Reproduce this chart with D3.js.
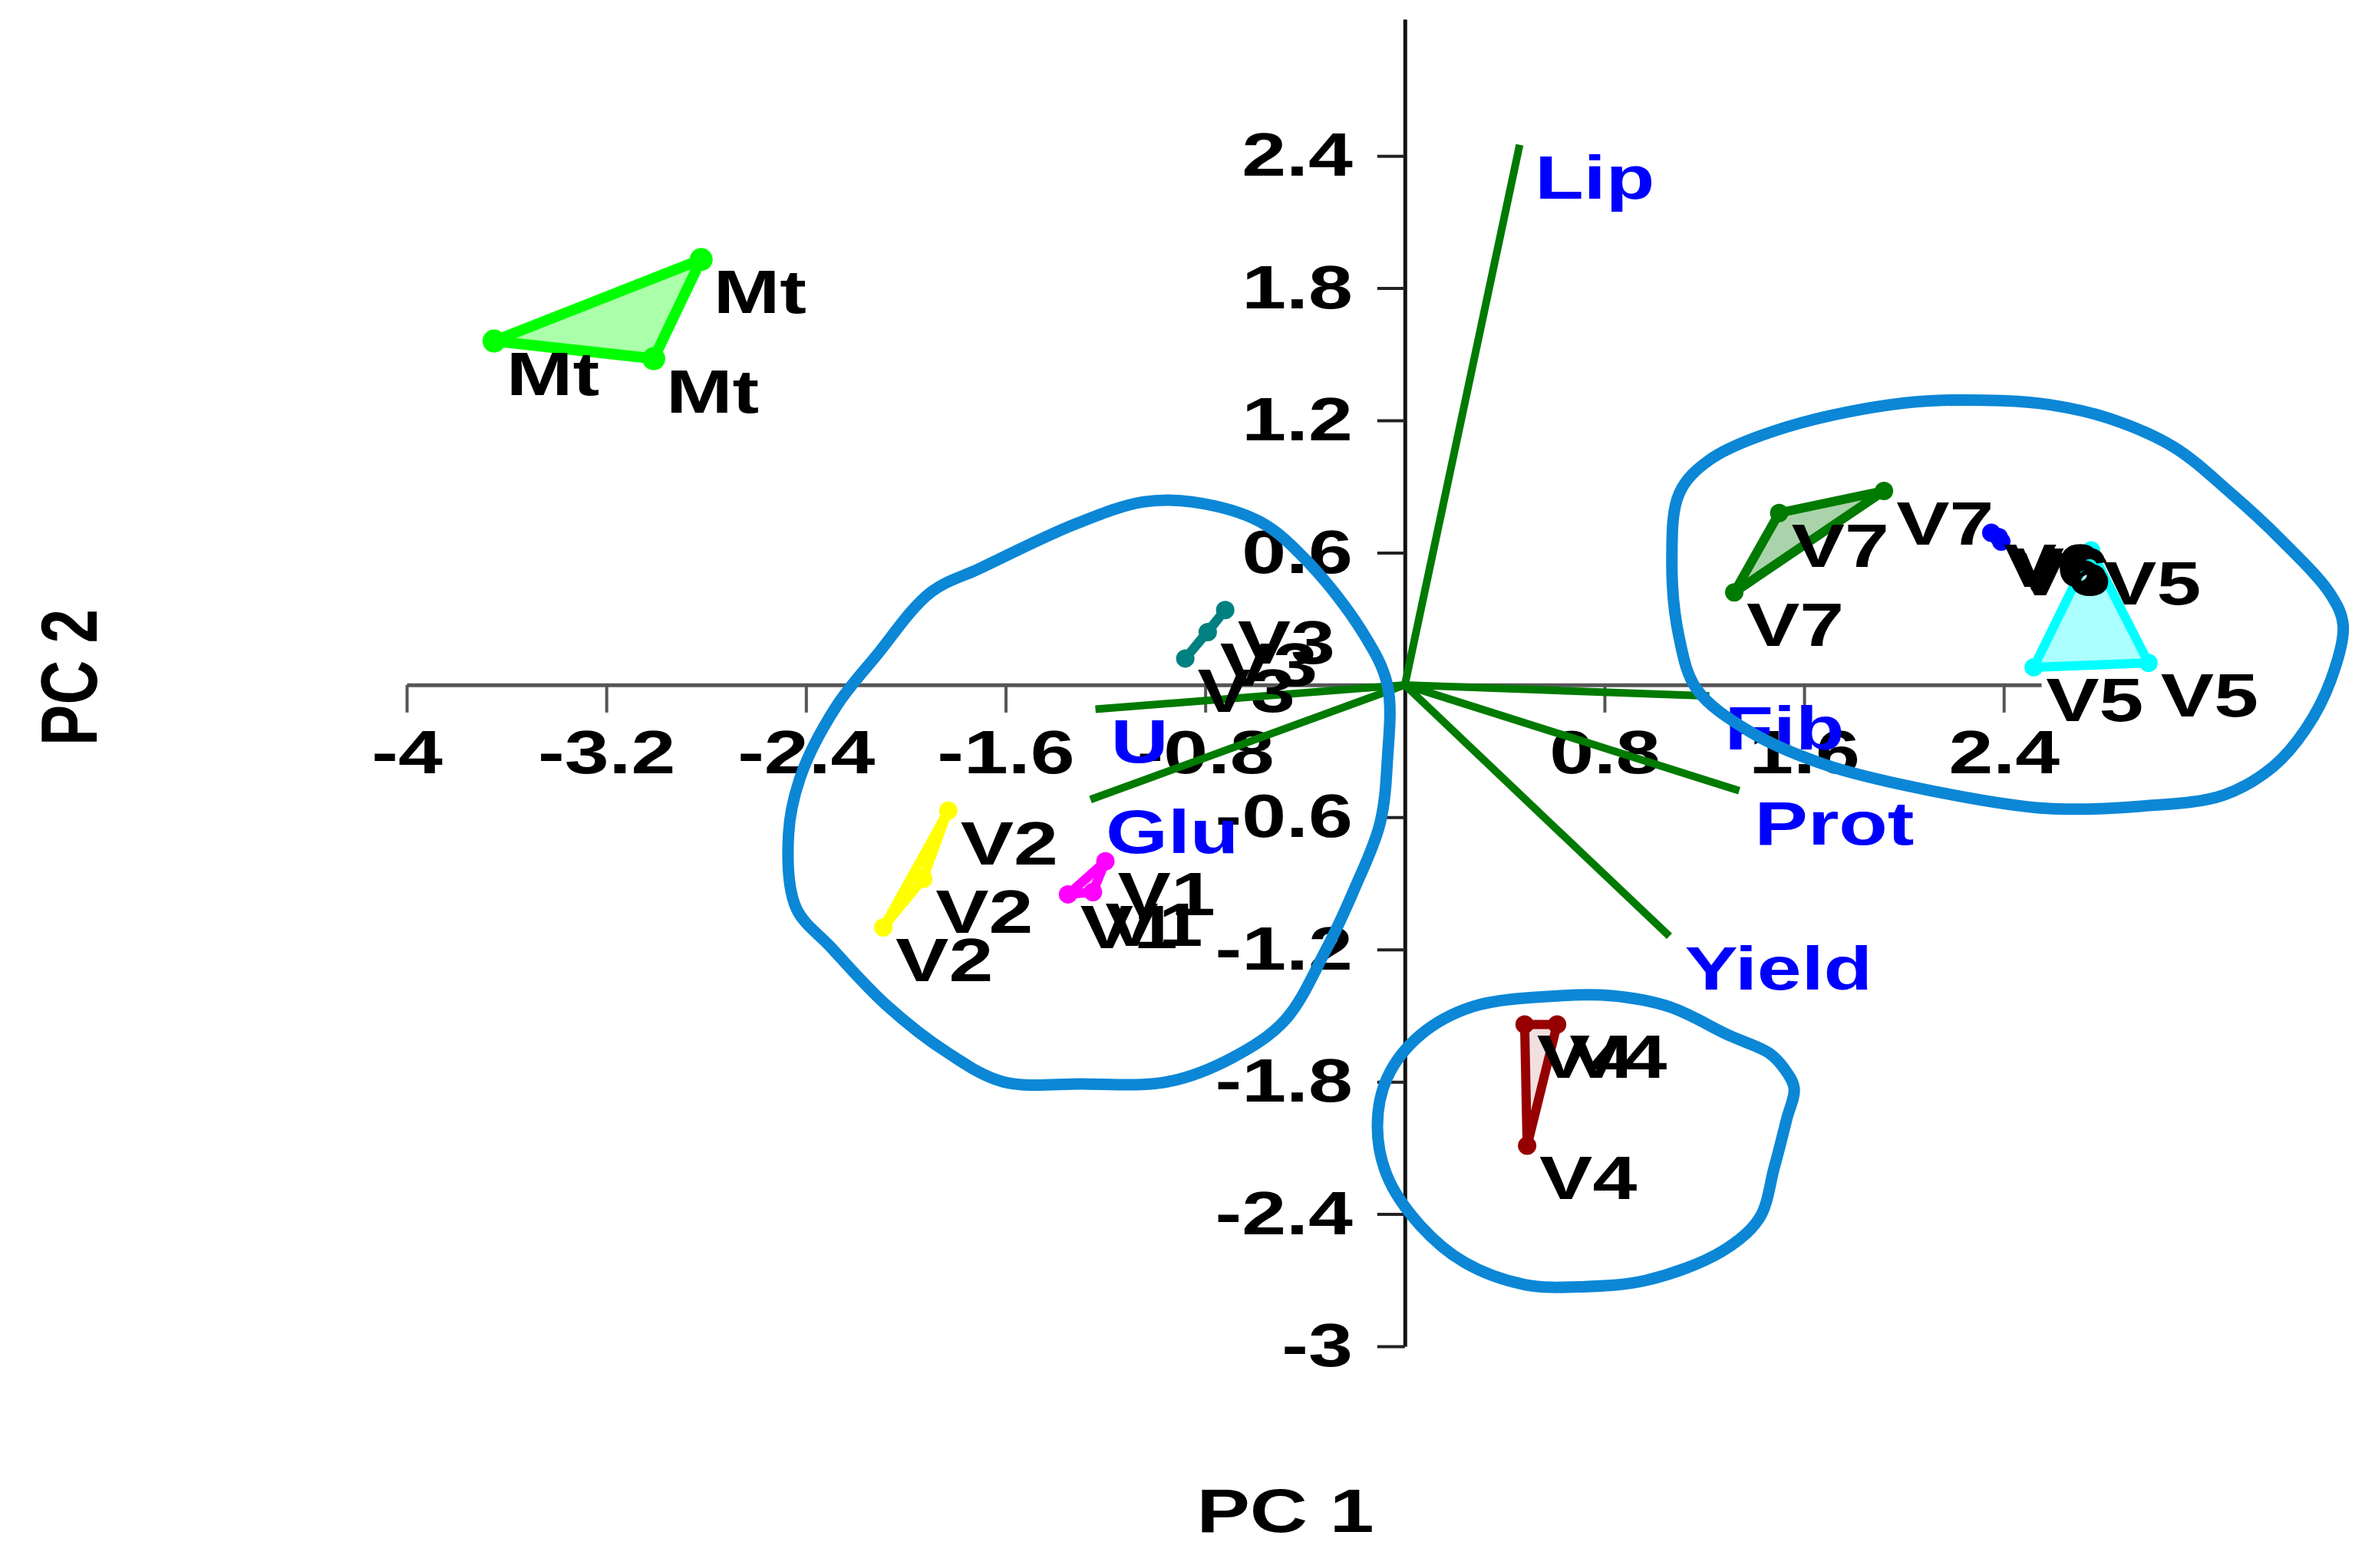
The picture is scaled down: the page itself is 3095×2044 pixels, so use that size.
<!DOCTYPE html>
<html>
<head>
<meta charset="utf-8">
<script src="https://cdn.jsdelivr.net/npm/d3@7"></script>
<style>
  body { margin: 0; background: #fff; }
  svg text { font-family: "Liberation Sans", Arial, sans-serif; font-weight: bold; }
</style>
</head>
<body>
<script>
// PCA scores, one entry per sample
const sampleGroup = ["Mt", "Mt", "Mt", "V1", "V1", "V1", "V2", "V2", "V2", "V3", "V3", "V3",
                     "V4", "V4", "V4", "V5", "V5", "V5", "V6", "V6", "V6", "V7", "V7", "V7"];
const samplePC1 = [-2.82, -3.65, -3.01, -1.20, -1.25, -1.35, -1.83, -1.93, -2.09, -0.72, -0.79, -0.88,
                   0.48, 0.61, 0.49, 2.75, 2.52, 2.98, 2.35, 2.39, 2.38, 1.50, 1.92, 1.32];
const samplePC2 = [1.93, 1.56, 1.48, -0.80, -0.94, -0.95, -0.57, -0.88, -1.10, 0.34, 0.24, 0.12,
                   -1.54, -1.54, -2.09, 0.61, 0.08, 0.10, 0.69, 0.65, 0.67, 0.78, 0.88, 0.42];

// groups and their hull colours
const groupNames = ["Mt", "V1", "V2", "V3", "V4", "V5", "V6", "V7"];
const groupColors = ["#00ff00", "#ff00ff", "#ffff00", "#008080", "#960000", "#00ffff", "#0000ff", "#007a00"];

// variable loadings (biplot vectors)
const variables = ["Lip", "Fib", "Prot", "Yield", "U", "Glu"];
const loadPC1 = [0.46, 1.22, 1.34, 1.06, -1.24, -1.26];
const loadPC2 = [2.45, -0.05, -0.48, -1.14, -0.11, -0.52];

// axis ticks
const xTicks = [-4, -3.2, -2.4, -1.6, -0.8, 0.8, 1.6, 2.4];
const yTicks = [2.4, 1.8, 1.2, 0.6, -0.6, -1.2, -1.8, -2.4, -3];

// hand drawn cluster loops (PC1, PC2)
const leftLoop = [[-1.05, 0.83], [-0.85, 0.83], [-0.58, 0.74], [-0.39, 0.56], [-0.17, 0.24], [-0.07, 0.0],
  [-0.07, -0.34], [-0.10, -0.63], [-0.20, -0.92], [-0.32, -1.21], [-0.48, -1.52], [-0.69, -1.69],
  [-0.95, -1.80], [-1.30, -1.81], [-1.61, -1.80], [-1.83, -1.67], [-2.08, -1.45], [-2.30, -1.19],
  [-2.44, -1.01], [-2.47, -0.68], [-2.42, -0.41], [-2.28, -0.10], [-2.12, 0.13], [-1.90, 0.42],
  [-1.70, 0.53], [-1.32, 0.73]];
const rightLoop = [[2.39, 1.29], [2.01, 1.28], [1.53, 1.17], [1.22, 1.02], [1.10, 0.87], [1.07, 0.57],
  [1.10, 0.21], [1.17, -0.02], [1.38, -0.21], [1.68, -0.36], [2.11, -0.48], [2.57, -0.56],
  [2.95, -0.55], [3.28, -0.50], [3.48, -0.37], [3.61, -0.20], [3.71, 0.02], [3.76, 0.27],
  [3.71, 0.41], [3.51, 0.66], [3.31, 0.87], [3.08, 1.08], [2.82, 1.21], [2.59, 1.27]];
const bottomLoop = [[0.62, -1.41], [0.27, -1.46], [0.06, -1.59], [-0.07, -1.78], [-0.11, -2.00],
  [-0.07, -2.23], [0.06, -2.45], [0.24, -2.62], [0.48, -2.72], [0.71, -2.73], [0.97, -2.70],
  [1.27, -2.57], [1.42, -2.42], [1.48, -2.19], [1.53, -1.97], [1.56, -1.83], [1.52, -1.74],
  [1.46, -1.67], [1.30, -1.59], [1.06, -1.46], [0.83, -1.41]];

const width = 3095;
const height = 2044;
const stretch = 1.3;   // text in the source is drawn wide
const fontSize = 80;

const svg = d3.select("body")
  .append("svg")
    .attr("width", width)
    .attr("height", height);

const xScale = d3.scaleLinear()
    .domain([-4, 2.55])
    .range([530, 2660]);

const yScale = d3.scaleLinear()
    .domain([-3, 3.02])
    .range([1755, 25]);

// X axis through y = 0
const gx = svg.append("g")
    .attr("transform", "translate(0," + yScale(0) + ")")
    .call(d3.axisBottom(xScale)
      .tickValues(xTicks)
      .tickSize(36)
      .tickSizeOuter(0)
      .tickPadding(22)
      .tickFormat(d => String(d)));
gx.select(".domain").attr("stroke", "#555").attr("stroke-width", 5);
gx.selectAll(".tick line").attr("stroke", "#555").attr("stroke-width", 4);

// Y axis through x = 0
const gy = svg.append("g")
    .attr("transform", "translate(" + xScale(0) + ",0)")
    .call(d3.axisLeft(yScale)
      .tickValues(yTicks)
      .tickSize(36)
      .tickSizeOuter(0)
      .tickPadding(32)
      .tickFormat(d => String(d)));
gy.select(".domain").attr("stroke", "#111").attr("stroke-width", 5);
gy.selectAll(".tick line").attr("stroke", "#222").attr("stroke-width", 4);

[gx, gy].forEach(g => g.attr("font-size", fontSize).attr("font-family", null));
svg.selectAll(".tick text").each(function() {
  const t = d3.select(this);
  const x = +t.attr("x") || 0;
  const y = +t.attr("y") || 0;
  t.attr("x", null).attr("y", null)
    .attr("fill", "#000")
    .attr("transform", "translate(" + x + "," + y + ") scale(" + stretch + ",1)");
});

// loading vectors
svg.append("g")
  .selectAll("line")
  .data(variables)
  .enter()
  .append("line")
    .attr("x1", xScale(0))
    .attr("y1", yScale(0))
    .attr("x2", (d, i) => xScale(loadPC1[i]))
    .attr("y2", (d, i) => yScale(loadPC2[i]))
    .attr("stroke", "#007a00")
    .attr("stroke-width", 10);

// convex hulls per group
const hulls = svg.append("g");
groupNames.forEach((name, gi) => {
  const pts = [];
  sampleGroup.forEach((g, i) => {
    if (g === name) pts.push([xScale(samplePC1[i]), yScale(samplePC2[i])]);
  });
  const hull = d3.polygonHull(pts) || pts;
  hulls.append("path")
    .attr("d", "M" + hull.join("L") + "Z")
    .attr("fill", groupColors[gi])
    .attr("fill-opacity", name === "V4" ? 0.12 : 0.33)
    .attr("stroke", groupColors[gi])
    .attr("stroke-width", name === "Mt" ? 14 : 12)
    .attr("stroke-linejoin", "round");
});

// sample dots
svg.append("g")
  .selectAll("circle")
  .data(sampleGroup)
  .enter()
  .append("circle")
    .attr("cx", (d, i) => xScale(samplePC1[i]))
    .attr("cy", (d, i) => yScale(samplePC2[i]))
    .attr("r", d => d === "Mt" ? 15 : 12)
    .attr("fill", d => groupColors[groupNames.indexOf(d)]);

// sample labels
svg.append("g")
  .selectAll("text")
  .data(sampleGroup)
  .enter()
  .append("text")
    .attr("transform", (d, i) => "translate(" + (xScale(samplePC1[i]) + 16) + "," +
      (yScale(samplePC2[i]) + 70) + ") scale(" + stretch + ",1)")
    .attr("font-size", fontSize)
    .attr("fill", "#000")
    .text(d => d);

// loading labels
svg.append("g")
  .selectAll("text")
  .data(variables)
  .enter()
  .append("text")
    .attr("transform", (d, i) => "translate(" + (xScale(loadPC1[i]) + 20) + "," +
      (yScale(loadPC2[i]) + 70) + ") scale(" + stretch + ",1)")
    .attr("font-size", fontSize)
    .attr("fill", "#0000ff")
    .text(d => d);

// cluster loops on top
const loop = d3.line()
    .x(d => xScale(d[0]))
    .y(d => yScale(d[1]))
    .curve(d3.curveCatmullRomClosed);

svg.append("g")
  .selectAll("path")
  .data([leftLoop, rightLoop, bottomLoop])
  .enter()
  .append("path")
    .attr("d", loop)
    .attr("fill", "none")
    .attr("stroke", "#0b87d6")
    .attr("stroke-width", 15)
    .attr("stroke-linejoin", "round");

// axis titles
svg.append("text")
    .attr("transform", "translate(1675,1997) scale(" + stretch + ",1)")
    .attr("text-anchor", "middle")
    .attr("font-size", fontSize)
    .text("PC 1");

svg.append("text")
    .attr("transform", "translate(126,883) scale(" + stretch + ",1) rotate(-90)")
    .attr("text-anchor", "middle")
    .attr("font-size", fontSize)
    .text("PC 2");
</script>
</body>
</html>
